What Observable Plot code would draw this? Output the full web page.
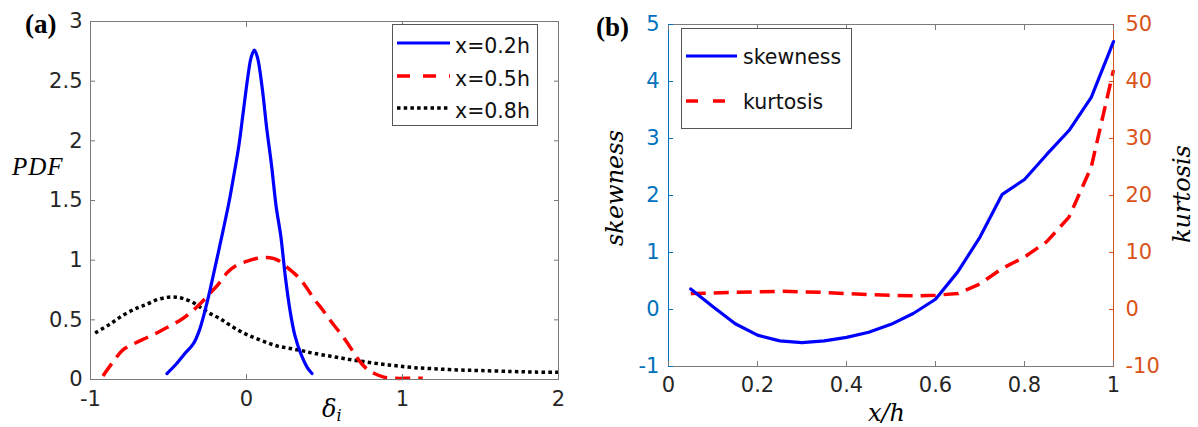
<!DOCTYPE html>
<html><head><meta charset="utf-8">
<script src="https://cdn.jsdelivr.net/npm/d3@7"></script>
<script src="https://cdn.jsdelivr.net/npm/@observablehq/plot@0.6"></script>
<style>
body{margin:0;background:#fff;}
#wrap{position:relative;width:1198px;height:427px;overflow:hidden;background:#fff;}
#wrap > svg, #wrap > figure{position:absolute;top:0;margin:0;}
</style></head><body><div id="wrap"></div>
<script>
// ---------- Panel (a) data: PDF of delta_i ----------
const xTicksA = [-1, 0, 1, 2];
const yTicksA = [0, 0.5, 1, 1.5, 2, 2.5, 3];
const seriesA = ["x=0.2h", "x=0.5h", "x=0.8h"];
const delta02 = [-0.51,-0.45,-0.40,-0.34,-0.30,-0.25,-0.20,-0.15,-0.11,-0.08,-0.05,-0.02,0.01,0.03,0.05,0.07,0.10,0.13,0.16,0.19,0.22,0.25,0.28,0.31,0.35,0.39,0.42];
const pdf02   = [0.05,0.13,0.21,0.30,0.42,0.66,0.95,1.25,1.50,1.72,1.95,2.25,2.55,2.70,2.76,2.70,2.45,2.10,1.80,1.45,1.20,0.85,0.57,0.37,0.21,0.10,0.05];
const delta05 = [-0.92,-0.86,-0.79,-0.72,-0.64,-0.56,-0.49,-0.42,-0.36,-0.30,-0.25,-0.18,-0.12,-0.06,0.00,0.05,0.10,0.15,0.20,0.26,0.33,0.38,0.43,0.49,0.54,0.60,0.65,0.70,0.74,0.78,0.82,0.88,0.95,1.05,1.13];
const pdf05   = [0.03,0.14,0.25,0.30,0.35,0.40,0.45,0.50,0.56,0.63,0.70,0.80,0.90,0.96,0.99,1.01,1.02,1.02,1.00,0.94,0.86,0.78,0.68,0.58,0.49,0.39,0.30,0.20,0.13,0.08,0.05,0.02,0.01,0.01,0.01];
const delta08 = [-0.97,-0.88,-0.79,-0.70,-0.64,-0.57,-0.50,-0.45,-0.41,-0.35,-0.29,-0.23,-0.17,-0.10,-0.02,0.05,0.13,0.20,0.28,0.36,0.43,0.54,0.65,0.75,0.86,0.96,1.07,1.20,1.35,1.50,1.70,1.85,2.00];
const pdf08   = [0.39,0.46,0.54,0.60,0.63,0.67,0.69,0.69,0.68,0.65,0.60,0.55,0.51,0.45,0.39,0.35,0.31,0.28,0.26,0.24,0.22,0.195,0.17,0.15,0.13,0.115,0.10,0.09,0.08,0.075,0.067,0.062,0.06];

// ---------- Panel (b) data: skewness / kurtosis vs x/h ----------
const xTicksB = [0, 0.2, 0.4, 0.6, 0.8, 1];
const yTicksSkew = [-1, 0, 1, 2, 3, 4, 5];
const yTicksKurt = [-10, 0, 10, 20, 30, 40, 50];
const xh       = [0.05,0.10,0.15,0.20,0.25,0.30,0.35,0.40,0.45,0.50,0.55,0.60,0.65,0.70,0.75,0.80,0.85,0.90,0.95,1.00];
const skewness = [0.36,0.05,-0.25,-0.45,-0.55,-0.58,-0.55,-0.49,-0.40,-0.26,-0.07,0.18,0.66,1.27,2.02,2.28,2.72,3.14,3.72,4.70];
const kurtosis = [2.8,2.9,3.0,3.1,3.2,3.1,3.0,2.8,2.6,2.5,2.4,2.5,2.8,4.5,7.2,9.2,11.9,16.2,25.0,42.0];

const FONT = "DejaVu Sans";
const GRAY = "#7a7a7a";
const TXT = "#262626";
const BLUE_AX = "#0072BD";
const ORANGE_AX = "#D95319";
const TICK_FS = 21;
const fmt = d => String(d);
const baseStyle = {fontFamily: FONT, fontSize: "21px", color: TXT, background: "transparent", overflow: "visible"};

const rows = (xs, ys) => xs.map((x, i) => ({x, y: ys[i]}));

const wrap = document.getElementById("wrap");

// ---------- Panel (a) ----------
const A = Plot.plot({
  width: 600, height: 427,
  marginLeft: 90, marginRight: 42, marginTop: 21, marginBottom: 48,
  x: {domain: [-1, 2]},
  y: {domain: [0, 3]},
  style: baseStyle,
  marks: [
    Plot.line(rows(delta08, pdf08), {x: "x", y: "y", stroke: "#000", strokeWidth: 3.5, strokeDasharray: "3.5,3.2", strokeLinecap: "butt", curve: "catmull-rom"}),
    Plot.line(rows(delta05, pdf05), {x: "x", y: "y", stroke: "#ff0000", strokeWidth: 3.5, strokeDasharray: "15,8", strokeLinecap: "butt", curve: "catmull-rom"}),
    Plot.line(rows(delta02, pdf02), {x: "x", y: "y", stroke: "#0000ff", strokeWidth: 3.2, curve: "catmull-rom"}),
    Plot.ruleX([-1, 2], {stroke: GRAY}),
    Plot.ruleY([0, 3], {stroke: GRAY}),
    Plot.axisX(xTicksA, {anchor: "bottom", tickSize: 0, tickPadding: 12, tickFormat: fmt, label: null, color: TXT, fontSize: TICK_FS}),
    Plot.axisX(xTicksA, {anchor: "bottom", tickSize: 5, dy: -5, tickFormat: () => "", label: null, color: GRAY}),
    Plot.axisX(xTicksA, {anchor: "top", tickSize: 5, dy: 5, tickFormat: () => "", label: null, color: GRAY}),
    Plot.axisY(yTicksA, {anchor: "left", tickSize: 0, tickPadding: 8, tickFormat: fmt, label: null, color: TXT, fontSize: TICK_FS}),
    Plot.axisY(yTicksA, {anchor: "left", tickSize: 5, dx: 5, tickFormat: () => "", label: null, color: GRAY}),
    Plot.axisY(yTicksA, {anchor: "right", tickSize: 5, dx: -5, tickFormat: () => "", label: null, color: GRAY})
  ]
});
A.style.left = "0px";
wrap.appendChild(A);

// ---------- Panel (b): kurtosis layer (right axis) ----------
const dimsB = {width: 598, height: 427, marginLeft: 68, marginRight: 85, marginTop: 24, marginBottom: 61};
const B2 = Plot.plot({
  ...dimsB,
  x: {domain: [0, 1], axis: null},
  y: {domain: [-10, 50]},
  style: baseStyle,
  marks: [
    Plot.line(rows(xh, kurtosis), {x: "x", y: "y", stroke: "#ff0000", strokeWidth: 3.5, strokeDasharray: "15,8", strokeLinecap: "butt"}),
    Plot.ruleX([1], {stroke: ORANGE_AX}),
    Plot.axisY(yTicksKurt, {anchor: "right", tickSize: 0, tickPadding: 12, tickFormat: fmt, label: null, color: ORANGE_AX, fontSize: TICK_FS}),
    Plot.axisY(yTicksKurt, {anchor: "right", tickSize: 5, dx: -5, tickFormat: () => "", label: null, color: ORANGE_AX})
  ]
});
B2.style.left = "600px";
wrap.appendChild(B2);

// ---------- Panel (b): skewness layer (left axis) ----------
const B = Plot.plot({
  ...dimsB,
  x: {domain: [0, 1]},
  y: {domain: [-1, 5]},
  style: baseStyle,
  marks: [
    Plot.line(rows(xh, skewness), {x: "x", y: "y", stroke: "#0000ff", strokeWidth: 3.2}),
    Plot.ruleY([-1, 5], {stroke: GRAY}),
    Plot.ruleX([0], {stroke: BLUE_AX}),
    Plot.axisX(xTicksB, {anchor: "bottom", tickSize: 0, tickPadding: 11, tickFormat: fmt, label: null, color: TXT, fontSize: TICK_FS}),
    Plot.axisX(xTicksB, {anchor: "bottom", tickSize: 5, dy: -5, tickFormat: () => "", label: null, color: GRAY}),
    Plot.axisX(xTicksB, {anchor: "top", tickSize: 5, dy: 5, tickFormat: () => "", label: null, color: GRAY}),
    Plot.axisY(yTicksSkew, {anchor: "left", tickSize: 0, tickPadding: 9, tickFormat: fmt, label: null, color: BLUE_AX, fontSize: TICK_FS}),
    Plot.axisY(yTicksSkew, {anchor: "left", tickSize: 5, dx: 5, tickFormat: () => "", label: null, color: BLUE_AX})
  ]
});
B.style.left = "600px";
wrap.appendChild(B);

// ---------- Overlay: panel labels, axis titles, legends ----------
const ov = d3.create("svg").attr("width", 1198).attr("height", 427).style("left", "0px").style("pointer-events", "none");
const serifIt = "'DejaVu Serif', serif";
ov.append("text").attr("x", 25).attr("y", 33).attr("font-family", "'Liberation Serif', serif").attr("font-weight", "bold").attr("font-size", 27).attr("fill", "#000").text("(a)");
ov.append("text").attr("x", 596).attr("y", 36).attr("font-family", "'Liberation Serif', serif").attr("font-weight", "bold").attr("font-size", 27).attr("fill", "#000").text("(b)");
ov.append("text").attr("x", 12).attr("y", 175).attr("font-family", "'Liberation Serif', serif").attr("font-style", "italic").attr("font-size", 25).attr("letter-spacing", 1).attr("fill", "#000").text("PDF");
const dl = ov.append("text").attr("x", 322).attr("y", 417).attr("font-family", serifIt).attr("font-style", "italic").attr("font-size", 24).attr("fill", "#000");
dl.append("tspan").text("δ");
dl.append("tspan").attr("font-size", 16).attr("dy", 4).text("i");
ov.append("text").attr("x", 868).attr("y", 421).attr("font-family", serifIt).attr("font-style", "italic").attr("font-size", 24).attr("fill", "#000").text("x/h");
ov.append("text").attr("transform", "translate(623,188) rotate(-90)").attr("text-anchor", "middle").attr("font-family", serifIt).attr("font-style", "italic").attr("font-size", 24).attr("fill", "#000").text("skewness");
ov.append("text").attr("transform", "translate(1190,194) rotate(-90)").attr("text-anchor", "middle").attr("font-family", serifIt).attr("font-style", "italic").attr("font-size", 24).attr("fill", "#000").text("kurtosis");

// legend (a)
const styleA = [
  {stroke: "#0000ff", dash: null, w: 3.2},
  {stroke: "#ff0000", dash: "13,13", w: 3.5},
  {stroke: "#000", dash: "3.5,3.2", w: 3.5}
];
const legA = ov.append("g");
legA.append("rect").attr("x", 392.5).attr("y", 24.5).attr("width", 145).attr("height", 101).attr("fill", "#fff").attr("stroke", "#555");
const rowYA = [43, 76, 108];
seriesA.forEach((s, i) => {
  legA.append("line").attr("x1", 397).attr("x2", 450).attr("y1", rowYA[i]).attr("y2", rowYA[i])
    .attr("stroke", styleA[i].stroke).attr("stroke-width", styleA[i].w).attr("stroke-dasharray", styleA[i].dash);
  legA.append("text").attr("x", 455).attr("y", rowYA[i] + 10).attr("font-family", FONT).attr("font-size", 20.5).attr("fill", "#111").text(s);
});
// legend (b)
const seriesB = ["skewness", "kurtosis"];
const styleB = [{stroke: "#0000ff", dash: null, w: 3.2}, {stroke: "#ff0000", dash: "12,15", w: 3.5}];
const legB = ov.append("g");
legB.append("rect").attr("x", 681.5).attr("y", 28.5).attr("width", 170).attr("height", 100).attr("fill", "#fff").attr("stroke", "#555");
const rowYB = [56, 101];
seriesB.forEach((s, i) => {
  legB.append("line").attr("x1", 686).attr("x2", 737).attr("y1", rowYB[i]).attr("y2", rowYB[i])
    .attr("stroke", styleB[i].stroke).attr("stroke-width", styleB[i].w).attr("stroke-dasharray", styleB[i].dash);
  legB.append("text").attr("x", 743).attr("y", rowYB[i] + 8).attr("font-family", FONT).attr("font-size", 20.5).attr("fill", "#111").text(s);
});
wrap.appendChild(ov.node());
</script>
</body></html>
